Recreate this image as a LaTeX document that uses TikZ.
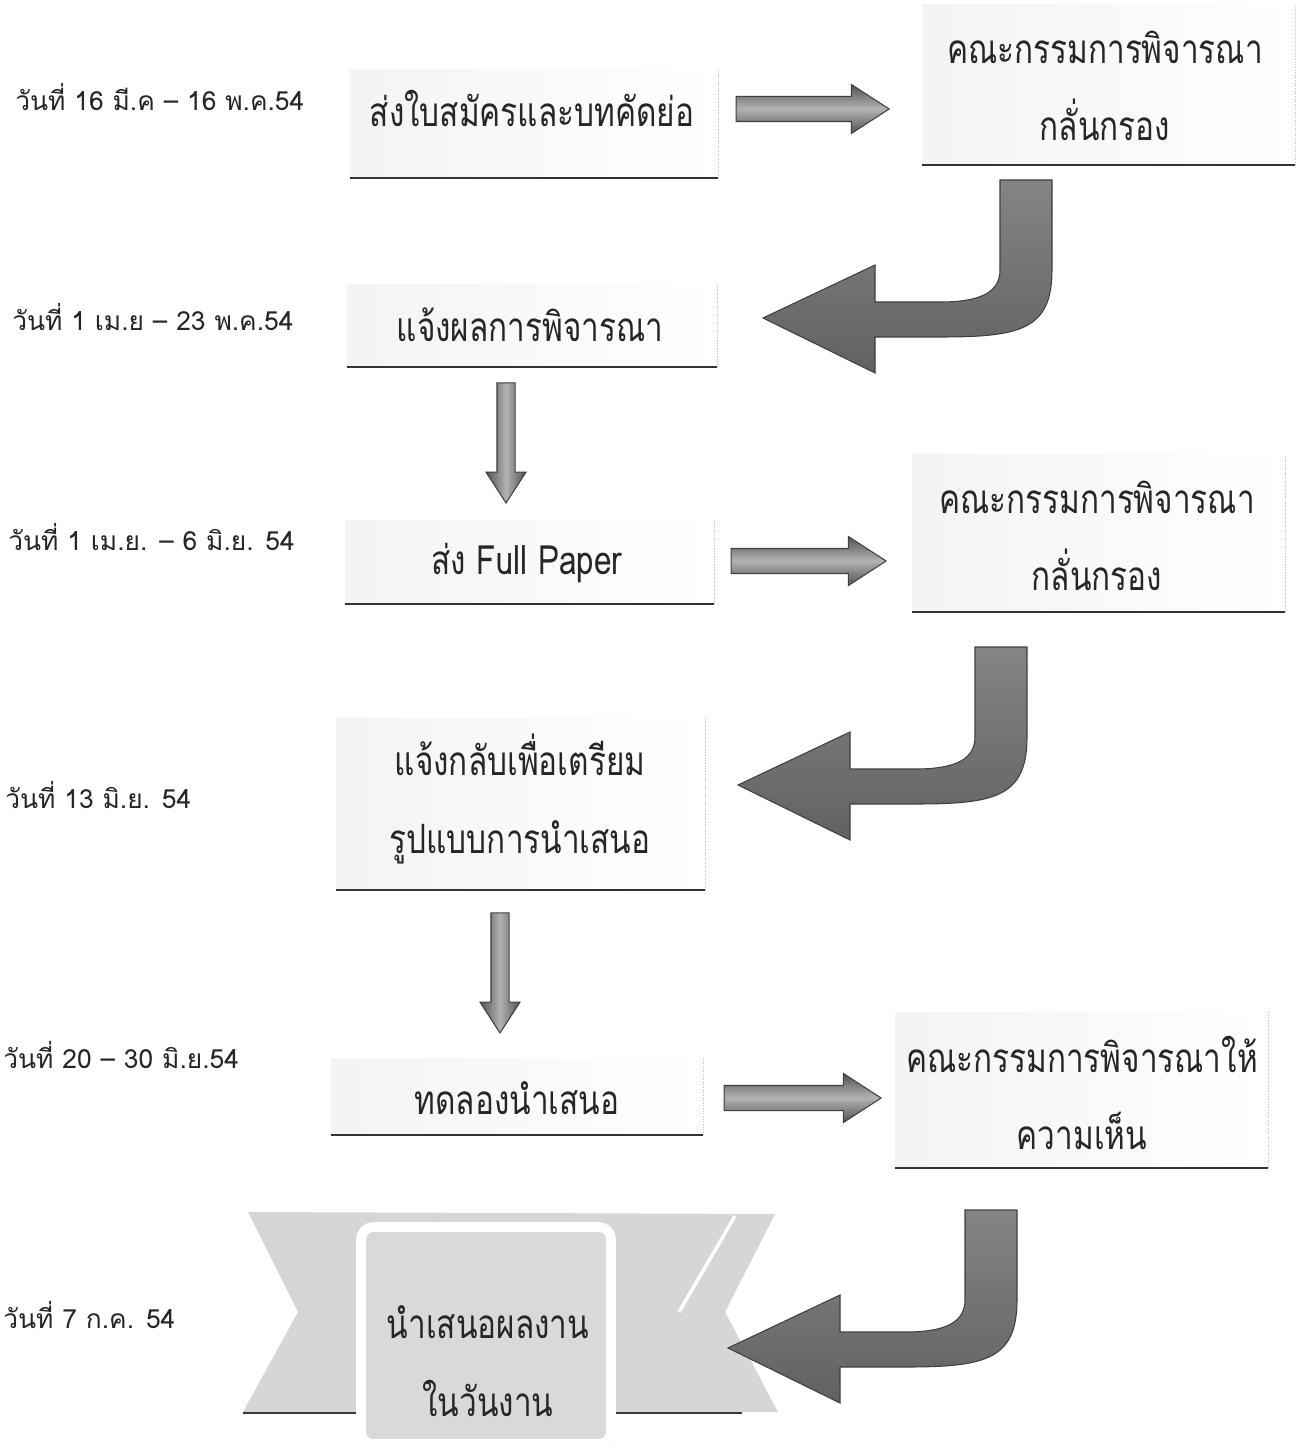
\documentclass[tikz,border=0pt]{standalone}
\usepackage{fontspec}
\newfontfamily\thaifont[Script=Thai]{Loma}
\newfontfamily\thaicond[Script=Thai,FakeStretch=0.78]{Loma}
\usetikzlibrary{shapes.arrows,shadows,fit}
\tikzset{
  boxbg/.style={inner sep=0pt, shading=axis, left color=gray!9, right color=white},
  boxbottom/.style={draw=gray!40!black, line width=1pt},
  boxside/.style={draw=gray!55, line width=0.5pt, densely dotted},
  boxtxt/.style={font=\thaicond\fontsize{23}{44}\selectfont, text=black!85, align=center, inner sep=0pt},
  datetxt/.style={font=\thaifont\fontsize{15}{17}\selectfont, text=black!85, anchor=west, inner sep=0pt},
  rarrow/.style={single arrow, draw=black!75, line width=0.6pt, shading=axis,
    top color=black!68, bottom color=black!68, middle color=black!30,
    single arrow head extend=0.24cm, single arrow tip angle=66,
    inner sep=0.24cm},
  darrow/.style={single arrow, shape border rotate=270, draw=black!75, line width=0.6pt, shading=axis,
    left color=black!68, right color=black!68, middle color=black!30,
    single arrow head extend=0.22cm, single arrow tip angle=66,
    minimum height=2.4cm, inner sep=0.17cm},
  curved/.style={draw=black!75, line width=0.6pt, shading=axis, top color=black!48, bottom color=black!62},
  ribbon/.style={fill=gray!32},
  rbox/.style={inner sep=0pt, fill=gray!30, draw=white, line width=5.5pt, rounded corners=7pt,
    drop shadow={opacity=0.45, shadow xshift=2pt, shadow yshift=-2pt}},
  uturn/.pic={
    \path[curved] (0,0) -- (52,0) -- (52,90) .. controls (52,150) and (20,157) .. (-60,157)
      -- (-125,157) -- (-125,193) -- (-237,138) -- (-125,85) -- (-125,122) -- (-60,122)
      .. controls (-25,122) and (0,115) .. (0,90) -- cycle;
  }
}
\begin{document}
\begin{tikzpicture}[x=0.02cm,y=-0.02cm]
\useasboundingbox (0,0) rectangle (1302,1452);
\fill[white] (0,0) rectangle (1302,1452);

% date labels
\node[datetxt] (d1) at (15,97) {วันที่ 16 มี.ค – 16 พ.ค.54};
\node[datetxt] (d2) at (12,317) {วันที่ 1 เม.ย – 23 พ.ค.54};
\node[datetxt] (d3) at (8,537) {วันที่ 1 เม.ย. – 6 มิ.ย. 54};
\node[datetxt] (d4) at (5,795) {วันที่ 13 มิ.ย. 54};
\node[datetxt] (d5) at (3,1055) {วันที่ 20 – 30 มิ.ย.54};
\node[datetxt] (d6) at (3,1315) {วันที่ 7 ก.ค. 54};

% boxes
\node[boxbg, fit={(350,70)(718,178)}] (b1) {};
\node[boxbg, fit={(922,5)(1295,165)}] (b2) {};
\node[boxbg, fit={(347,285)(717,367)}] (b3) {};
\node[boxbg, fit={(345,520)(714,604)}] (b4) {};
\node[boxbg, fit={(912,455)(1285,612)}] (b5) {};
\node[boxbg, fit={(336,718)(705,890)}] (b6) {};
\node[boxbg, fit={(331,1058)(703,1135)}] (b7) {};
\node[boxbg, fit={(895,1012)(1268,1168)}] (b8) {};
\foreach \b in {b1,b2,b3,b4,b5,b6,b7,b8}{
  \draw[boxside] (\b.south east) -- (\b.north east);
  \draw[boxbottom] (\b.south west) -- (\b.south east);
}

\node[boxtxt] (t1) at (532,108) {ส่งใบสมัครและบทคัดย่อ};
\node[boxtxt] (t2) at (1105,86) {คณะกรรมการพิจารณา\\กลั่นกรอง};
\node[boxtxt] (t3) at (530,325) {แจ้งผลการพิจารณา};
\node[boxtxt] (t4) at (527,563) {ส่ง Full Paper};
\node[boxtxt] (t5) at (1097,536) {คณะกรรมการพิจารณา\\กลั่นกรอง};
\node[boxtxt] (t6) at (520,799) {แจ้งกลับเพื่อเตรียม\\รูปแบบการนำเสนอ};
\node[boxtxt] (t7) at (517,1098) {ทดลองนำเสนอ};
\node[boxtxt] (t8) at (1082,1093) {คณะกรรมการพิจารณาให้\\ความเห็น};

% straight arrows
\node[rarrow, minimum height=3.06cm] (a1) at (803,109) {};
\node[rarrow, minimum height=3.1cm] (a2) at (799,561) {};
\node[rarrow, minimum height=3.14cm] (a3) at (793,1098) {};
\node[darrow] (a4) at (506,436) {};
\node[darrow] (a5) at (500,966) {};

% ribbon
\path[ribbon] (248,1212) -- (775,1214) -- (725,1312) -- (778,1412) -- (243,1412) -- (298,1312) -- cycle;
\draw[white, line width=2pt] (735,1216) -- (679,1312);
\draw[gray!45!black, line width=0.6pt] (243,1413) -- (358,1413) (615,1413) -- (742,1413);
\draw[gray!50, line width=0.5pt] (366,1228) -- (396,1228) (439,1221) -- (439,1232) (574,1231) -- (608,1231);
\node[rbox, fit={(361,1227)(611,1444)}] (rb) {};
\node[boxtxt] (t9) at (488,1361) {นำเสนอผลงาน\\ในวันงาน};

% curved arrows
\pic (c1) at (1000,180) {uturn};
\pic (c2) at (975,647) {uturn};
\pic (c3) at (965,1210) {uturn};
\end{tikzpicture}
\end{document}
